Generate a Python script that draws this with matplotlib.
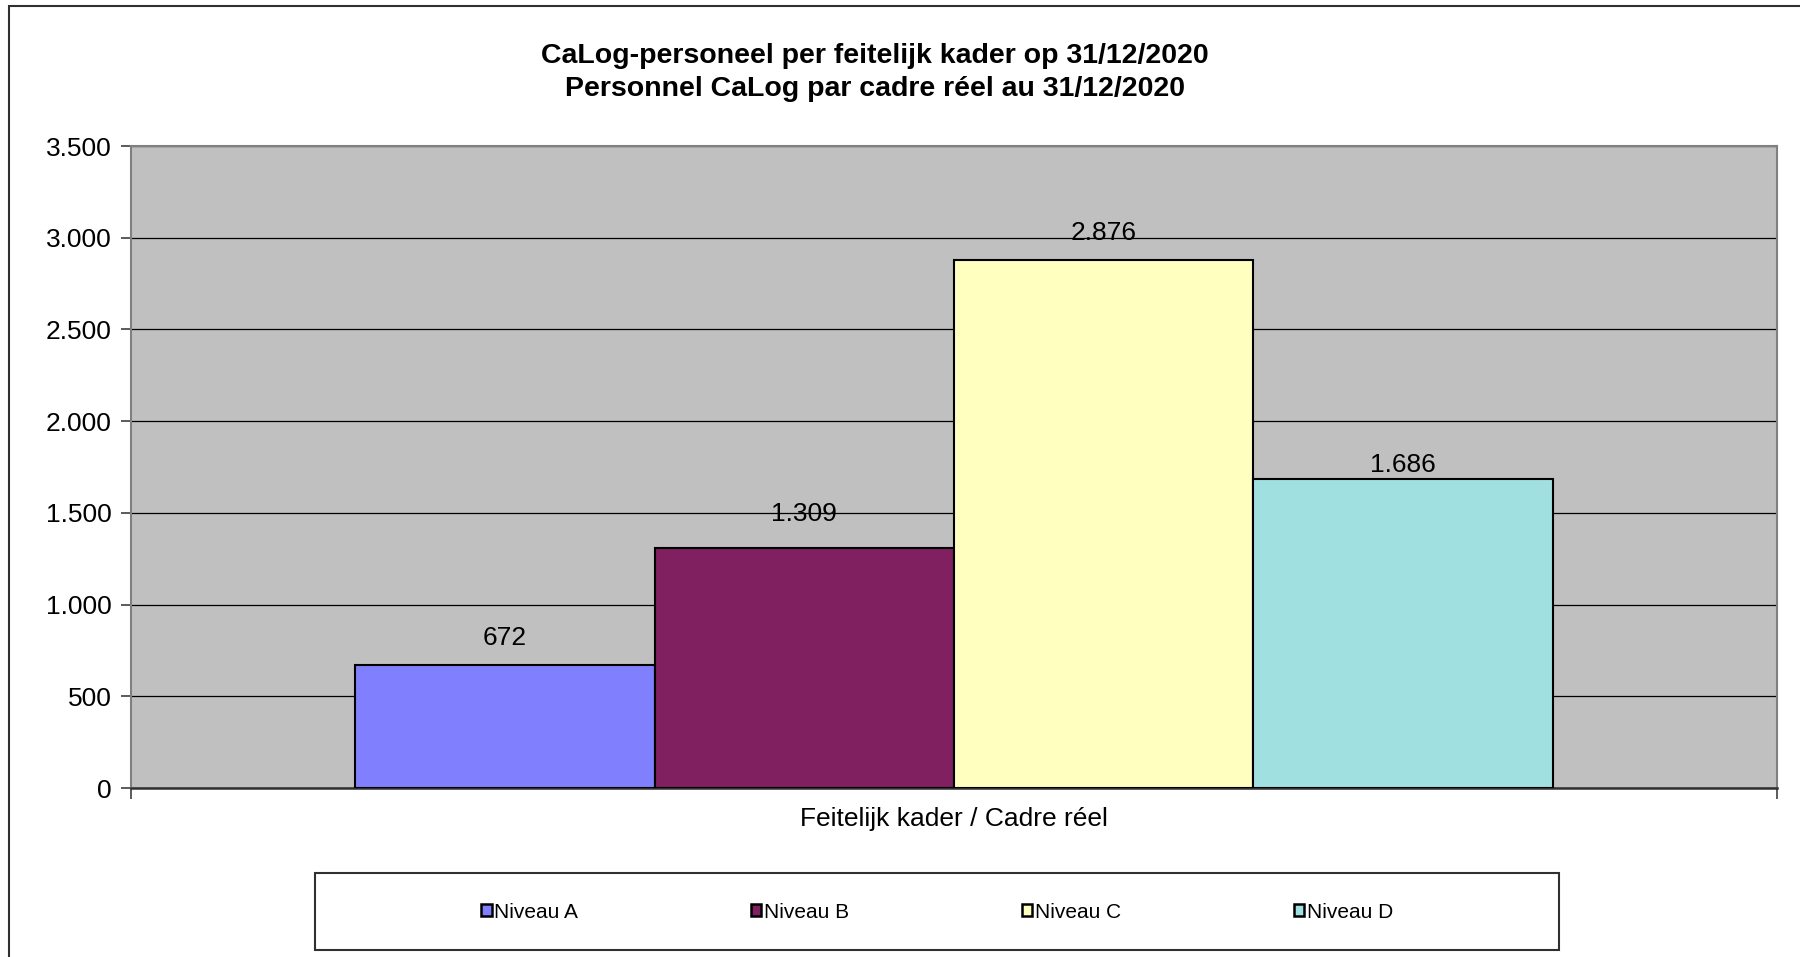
import matplotlib
matplotlib.use("Agg")
import matplotlib.pyplot as plt
from matplotlib.patches import Rectangle, Patch
from matplotlib.ticker import FuncFormatter, MultipleLocator

plt.rcParams['font.family'] = ['Liberation Sans', 'DejaVu Sans']

title_lines = ["CaLog-personeel per feitelijk kader op 31/12/2020",
               "Personnel CaLog par cadre réel au 31/12/2020"]
categories = ["Feitelijk kader / Cadre réel"]
series_names = ["Niveau A", "Niveau B", "Niveau C", "Niveau D"]
values = [672, 1309, 2876, 1686]
colors = ["#8080FF", "#802060", "#FFFFC0", "#A0E0E0"]
label_offsets_pt = [19, 24.5, 20, 10]

W, H = 1800, 957
fig = plt.figure(figsize=(W / 100, H / 100), dpi=100)

# outer chart border
fig.patches.append(Rectangle((9 / W, -0.02), 1.05, 1 - 6 / H + 0.02,
                             transform=fig.transFigure, fill=False,
                             edgecolor="#303030", lw=1.5))

ax = fig.add_axes([131 / W, 1 - 788 / H, (1777 - 131) / W, (788 - 146) / H])
ax.set_facecolor("#C0C0C0")

n = len(values)
offsets = [i - (n - 1) / 2 for i in range(n)]
for off, v, c, name, lo in zip(offsets, values, colors, series_names, label_offsets_pt):
    ax.bar(off, v, width=1.0, color=c, edgecolor="black", linewidth=1.5,
           label=name, zorder=3)
    ax.annotate(f"{v:,}".replace(",", "."), (off, v), xytext=(0, lo),
                textcoords="offset points", ha="center", va="center",
                fontsize=19, zorder=4)

half = 2.75
ax.set_xlim(-half, half)
ax.set_ylim(0, 3500)
ax.yaxis.set_major_locator(MultipleLocator(500))
ax.yaxis.set_major_formatter(FuncFormatter(lambda v, p: f"{int(v):,}".replace(",", ".")))
ax.grid(axis="y", color="black", lw=0.9, zorder=1)
ax.set_axisbelow(True)

ax.set_xticks([0])
ax.set_xticklabels(categories, fontsize=19)
ax.set_xticks([-half, half], minor=True)
ax.tick_params(axis="x", which="major", length=0, pad=14)
ax.tick_params(axis="x", which="minor", length=8, width=1.2, color="#404040")
ax.tick_params(axis="y", length=7, width=1.2, color="#404040", labelsize=19, pad=7)

for s in ["top", "right", "left"]:
    ax.spines[s].set_color("#808080")
    ax.spines[s].set_linewidth(1.5)
ax.spines["bottom"].set_color("#303030")
ax.spines["bottom"].set_linewidth(1.8)

# title
fig.text(875 / W, 1 - 72.5 / H, "\n".join(title_lines), ha="center", va="center",
         fontsize=20.5, fontweight="bold", linespacing=1.33)

# legend box
fig.patches.append(Rectangle((315 / W, 1 - 950 / H), (1559 - 315) / W, (950 - 873) / H,
                             transform=fig.transFigure, fill=False,
                             edgecolor="#303030", lw=1.5))
handles = [Patch(facecolor=c, edgecolor="black", linewidth=1.8) for c in colors]
fig.legend(handles, series_names, loc="center", bbox_to_anchor=(937 / W, 1 - 912 / H),
           ncol=4, frameon=False, fontsize=15, handlelength=0.5, handleheight=0.5,
           handletextpad=0.12, columnspacing=8.3)

fig.savefig("out.png", dpi=100)
